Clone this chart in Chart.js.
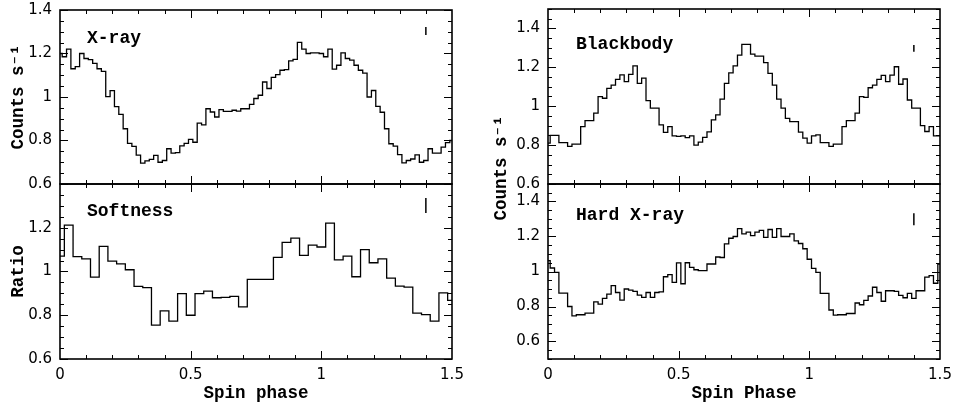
<!DOCTYPE html>
<html>
<head>
<meta charset="utf-8">
<script src="https://cdn.jsdelivr.net/npm/chart.js@4.4.1/dist/chart.umd.min.js"></script>
<style>
  html, body { margin: 0; padding: 0; background: #fff; }
  #wrap { position: relative; width: 953px; height: 406px; overflow: hidden; }
  .panel { position: absolute; }
</style>
</head>
<body>
<div id="wrap">
  <div class="panel" style="left:0;top:0;width:470px;height:196px"><canvas id="xrayChart"></canvas></div>
  <div class="panel" style="left:0;top:178px;width:470px;height:228px"><canvas id="softChart"></canvas></div>
  <div class="panel" style="left:476px;top:0;width:477px;height:196px"><canvas id="bbChart"></canvas></div>
  <div class="panel" style="left:476px;top:90px;width:477px;height:316px"><canvas id="hardChart"></canvas></div>
</div>
<script>
// Light curves folded on the spin period, shown over 1.5 cycles
// bin k is centred on phase k / binsPerCycle
const PHASE_MAX = 1.5;
const ERR_PHASE = 1.4;
const phaseTicks = [0, 0.5, 1, 1.5];

const xrayBins = 60;
const xrayRate = [
  1.20, 1.185, 1.22, 1.13, 1.14, 1.20, 1.177, 1.172, 1.155, 1.13,
  1.118, 1.002, 1.029, 0.956, 0.92, 0.854, 0.787, 0.773, 0.733, 0.696,
  0.706, 0.713, 0.732, 0.70, 0.708, 0.762, 0.742, 0.744, 0.775, 0.787,
  0.805, 0.792, 0.88, 0.872, 0.946, 0.931, 0.908, 0.942, 0.934, 0.934,
  0.939, 0.935, 0.946, 0.946, 0.966, 0.993, 1.008, 1.069, 1.039, 1.09,
  1.103, 1.123, 1.126, 1.166, 1.173, 1.251, 1.22, 1.20, 1.203, 1.203,
  1.20, 1.185, 1.22, 1.128, 1.146, 1.203, 1.177, 1.17, 1.146, 1.123,
  1.11, 1.0, 1.03, 0.957, 0.93, 0.854, 0.785, 0.774, 0.735, 0.697,
  0.708, 0.715, 0.734, 0.70, 0.708, 0.762, 0.742, 0.742, 0.77, 0.79,
  0.80
];
const xrayErr = [1.285, 1.322];
const xrayTicks = [0.6, 0.8, 1, 1.2, 1.4];

const softBins = 30;
const softnessRatio = [
  1.07, 1.212, 1.068, 1.058, 0.974, 1.115, 1.047, 1.035, 1.008, 0.932,
  0.926, 0.755, 0.82, 0.773, 0.899, 0.80, 0.899, 0.91, 0.88, 0.882,
  0.886, 0.838, 0.964, 0.964, 0.964, 1.065, 1.133, 1.153, 1.074, 1.121,
  1.112, 1.221, 1.053, 1.07, 0.976, 1.10, 1.04, 1.058, 0.97, 0.933,
  0.929, 0.81, 0.803, 0.773, 0.902, 0.868
];
const softErr = [1.268, 1.336];
const softTicks = [0.6, 0.8, 1, 1.2];

const bbBins = 60;
const blackbodyRate = [
  0.81, 0.85, 0.85, 0.813, 0.813, 0.793, 0.805, 0.805, 0.895, 0.926,
  0.926, 0.964, 1.049, 1.041, 1.092, 1.109, 1.138, 1.161, 1.126, 1.164,
  1.207, 1.118, 1.144, 1.029, 0.99, 0.99, 0.904, 0.865, 0.895, 0.848,
  0.845, 0.848, 0.838, 0.848, 0.80, 0.815, 0.84, 0.868, 0.93, 0.955,
  1.036, 1.118, 1.172, 1.208, 1.263, 1.318, 1.318, 1.268, 1.258, 1.258,
  1.224, 1.169, 1.109, 1.036, 0.99, 0.938, 0.921, 0.921, 0.867, 0.836,
  0.81, 0.848, 0.853, 0.813, 0.813, 0.793, 0.805, 0.805, 0.895, 0.926,
  0.926, 0.964, 1.049, 1.046, 1.095, 1.109, 1.138, 1.159, 1.126, 1.16,
  1.203, 1.113, 1.14, 1.032, 0.99, 0.99, 0.90, 0.87, 0.895, 0.848,
  0.848
];
const bbErr = [1.28, 1.315];
const bbTicks = [0.6, 0.8, 1, 1.2, 1.4];

const hardBins = 60;
const hardRate = [
  1.062, 1.02, 0.995, 0.877, 0.877, 0.80, 0.747, 0.753, 0.753, 0.762,
  0.762, 0.827, 0.814, 0.846, 0.871, 0.919, 0.88, 0.837, 0.90, 0.894,
  0.886, 0.865, 0.852, 0.88, 0.852, 0.88, 0.884, 0.97, 0.982, 0.938,
  1.049, 0.93, 1.05, 1.024, 1.01, 1.005, 1.005, 1.043, 1.043, 1.083,
  1.08, 1.158, 1.19, 1.20, 1.245, 1.215, 1.225, 1.205, 1.225, 1.235,
  1.195, 1.24, 1.195, 1.245, 1.20, 1.20, 1.215, 1.175, 1.16, 1.13,
  1.07, 1.018, 0.995, 0.875, 0.875, 0.78, 0.751, 0.753, 0.753, 0.76,
  0.76, 0.82, 0.81, 0.835, 0.86, 0.91, 0.88, 0.83, 0.89, 0.89,
  0.886, 0.864, 0.85, 0.875, 0.846, 0.89, 0.89, 0.968, 0.977, 0.933,
  1.043
];
const hardErr = [1.264, 1.333];
const hardTicks = [0.6, 0.8, 1, 1.2, 1.4];

const TICK_FONT = { family: '"DejaVu Sans", sans-serif', size: 15 };
const TITLE_FONT = { family: '"Liberation Mono", monospace', size: 17.5, weight: 'bold' };

// Turn bin values into step points at the left bin edges
function histogramPoints(values, binsPerCycle) {
    const w = 1 / binsPerCycle;
    const pts = values.map((v, k) => ({ x: Math.max(0, (k - 0.5) * w), y: v }));
    pts.push({ x: PHASE_MAX, y: values[values.length - 1] });
    return pts;
}

// Frame with inward ticks on all four sides, plus the panel label
const frameTicks = {
    id: 'frameTicks',
    afterDatasetsDraw(chart, args, opts) {
        const { ctx, chartArea: a, scales: { x, y } } = chart;
        ctx.save();
        ctx.strokeStyle = '#000';
        ctx.lineWidth = 1;
        ctx.beginPath();
        for (let i = 1; i < 15; i++) {
            const px = Math.round(x.getPixelForValue(i / 10)) + 0.5;
            const len = i % 5 === 0 ? 8 : 4;
            ctx.moveTo(px, a.bottom); ctx.lineTo(px, a.bottom - len);
            ctx.moveTo(px, a.top); ctx.lineTo(px, a.top + len);
        }
        const i0 = Math.ceil(y.min / 0.05 - 1e-6);
        const i1 = Math.floor(y.max / 0.05 + 1e-6);
        for (let i = i0; i <= i1; i++) {
            const py = Math.round(y.getPixelForValue(i * 0.05)) + 0.5;
            const len = i % 4 === 0 ? 8 : 4;
            ctx.moveTo(a.left, py); ctx.lineTo(a.left + len, py);
            ctx.moveTo(a.right, py); ctx.lineTo(a.right - len, py);
        }
        ctx.stroke();
        ctx.lineWidth = 1.6;
        ctx.strokeRect(a.left, a.top, a.right - a.left, a.bottom - a.top);

        ctx.fillStyle = '#000';
        ctx.textBaseline = 'middle';
        ctx.font = 'bold 18px "Liberation Mono", monospace';
        ctx.fillText(opts.label, a.left + opts.dx, a.top + opts.dy);

        // shared y title of the right column
        if (opts.sideTitle) {
            ctx.font = 'bold 17.5px "Liberation Mono", monospace';
            ctx.textAlign = 'center';
            ctx.translate(opts.sideTitle.x, opts.sideTitle.y);
            ctx.rotate(-Math.PI / 2);
            ctx.fillText(opts.sideTitle.text, 0, 0);
        }
        ctx.restore();
    }
};

function makePanel(canvasId, p) {
    const showX = p.xTitle !== undefined;
    new Chart(document.getElementById(canvasId), {
        type: 'line',
        data: {
            datasets: [{
                data: histogramPoints(p.values, p.bins),
                stepped: true,
                borderColor: '#000',
                borderWidth: 1.3,
                pointRadius: 0,
                fill: false
            }, {
                data: [{ x: ERR_PHASE, y: p.err[0] }, { x: ERR_PHASE, y: p.err[1] }],
                borderColor: '#000',
                borderWidth: 1.5,
                pointRadius: 0,
                fill: false
            }]
        },
        options: {
            animation: false,
            responsive: true,
            maintainAspectRatio: false,
            layout: { padding: p.padding },
            scales: {
                x: {
                    type: 'linear',
                    min: 0,
                    max: PHASE_MAX,
                    display: showX,
                    grid: { display: false, drawTicks: false },
                    border: { display: false },
                    afterBuildTicks(s) { s.ticks = phaseTicks.map(v => ({ value: v })); },
                    ticks: {
                        padding: 7,
                        color: '#000',
                        font: TICK_FONT,
                        maxRotation: 0,
                        autoSkip: false,
                        callback: v => String(v)
                    },
                    title: {
                        display: showX,
                        text: p.xTitle,
                        color: '#000',
                        font: TITLE_FONT,
                        padding: { top: 0, bottom: 2 }
                    },
                    afterFit(s) { s.height = showX ? 47 : 0; s.paddingLeft = 0; s.paddingRight = 0; }
                },
                y: {
                    type: 'linear',
                    min: p.yRange[0],
                    max: p.yRange[1],
                    grid: { display: false, drawTicks: false },
                    border: { display: false },
                    afterBuildTicks(s) { s.ticks = p.yTicks.map(v => ({ value: v })); },
                    ticks: {
                        autoSkip: false,
                        padding: 8,
                        color: '#000',
                        font: TICK_FONT,
                        callback: v => String(v)
                    },
                    title: {
                        display: !!p.yTitle,
                        text: p.yTitle,
                        color: '#000',
                        font: TITLE_FONT,
                        padding: { top: 8, bottom: 0 }
                    },
                    afterFit(s) { s.width = p.axisWidth; s.paddingTop = 0; s.paddingBottom = 0; }
                }
            },
            plugins: {
                legend: { display: false },
                tooltip: { enabled: false },
                frameTicks: p.frame
            }
        },
        plugins: [frameTicks]
    });
}

makePanel('xrayChart', {
    values: xrayRate, bins: xrayBins, err: xrayErr,
    yRange: [0.6, 1.4], yTicks: xrayTicks, yTitle: 'Counts s⁻¹', axisWidth: 60,
    padding: { top: 10, right: 18, bottom: 12, left: 0 },
    frame: { label: 'X-ray', dx: 27, dy: 28 }
});

makePanel('softChart', {
    values: softnessRatio, bins: softBins, err: softErr,
    yRange: [0.6, 1.4], yTicks: softTicks, yTitle: 'Ratio', axisWidth: 60,
    xTitle: 'Spin phase',
    padding: { top: 6, right: 18, bottom: 0, left: 0 },
    frame: { label: 'Softness', dx: 27, dy: 27 }
});

makePanel('bbChart', {
    values: blackbodyRate, bins: bbBins, err: bbErr,
    yRange: [0.6, 1.5], yTicks: bbTicks, axisWidth: 72,
    padding: { top: 9, right: 13, bottom: 12, left: 0 },
    frame: { label: 'Blackbody', dx: 28, dy: 35 }
});

makePanel('hardChart', {
    values: hardRate, bins: hardBins, err: hardErr,
    yRange: [0.5, 1.5], yTicks: hardTicks, axisWidth: 72,
    xTitle: 'Spin Phase',
    padding: { top: 94, right: 13, bottom: 0, left: 0 },
    frame: { label: 'Hard X-ray', dx: 28, dy: 31, sideTitle: { text: 'Counts s⁻¹', x: 26, y: 78 } }
});
</script>
</body>
</html>
